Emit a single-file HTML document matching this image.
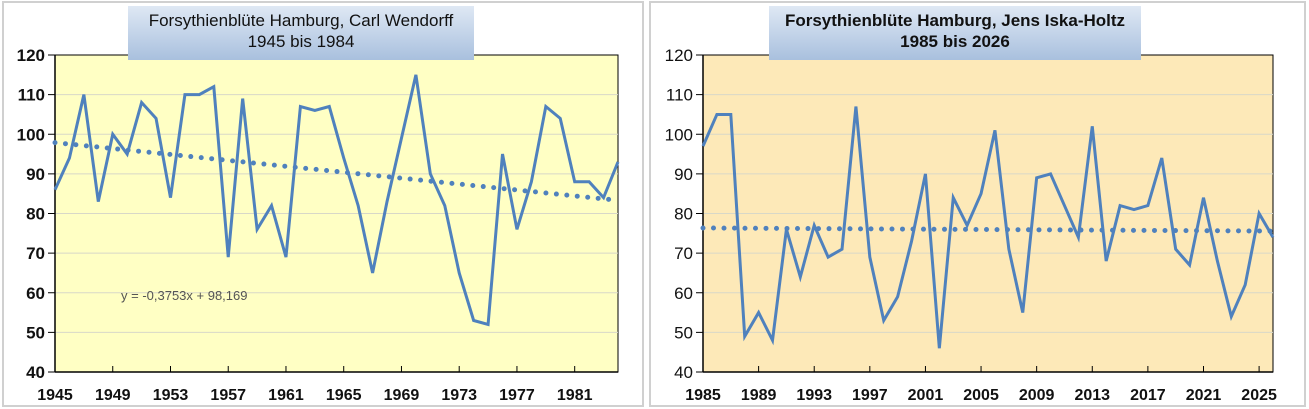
<!DOCTYPE html>
<html><head><meta charset="utf-8">
<style>
body{margin:0;background:#fff;width:1309px;height:409px;overflow:hidden;font-family:"Liberation Sans",sans-serif}
svg{position:absolute;left:0;top:0}
</style></head>
<body>
<svg id="s" width="1309" height="409" xmlns="http://www.w3.org/2000/svg">
<defs>
<linearGradient id="tg" x1="0" y1="0" x2="0" y2="1">
<stop offset="0" stop-color="#dfe8f4"/><stop offset="1" stop-color="#a9c0de"/>
</linearGradient>
</defs>
</svg>
<script>
const leftYears=[];for(let y=1945;y<=1984;y++)leftYears.push(y);
const leftValues=[86,94,110,83,100,95,108,104,84,110,110,112,69,109,76,82,69,107,106,107,94,82,65,83,99,115,90,82,65,53,52,95,76,88,107,104,88,88,84,93];
const rightYears=[];for(let y=1985;y<=2026;y++)rightYears.push(y);
const rightValues=[97,105,105,49,55,48,76,64,77,69,71,107,69,53,59,73,90,46,84,77,85,101,71,55,89,90,82,74,102,68,82,81,82,94,71,67,84,68,54,62,80,74];
const yTicks=[40,50,60,70,80,90,100,110,120];
const leftXTicks=[1945,1949,1953,1957,1961,1965,1969,1973,1977,1981];
const rightXTicks=[1985,1989,1993,1997,2001,2005,2009,2013,2017,2021,2025];

const S=document.getElementById('s');const NS='http://www.w3.org/2000/svg';
function el(t,a,p){const e=document.createElementNS(NS,t);for(const k in a)e.setAttribute(k,a[k]);(p||S).appendChild(e);return e;}

function chart(o){
  const g=el('g',{});
  
  
  const panel=el('rect',{x:o.px,y:2,width:o.pw,height:404,fill:'#fff',stroke:'#d0d0d0','stroke-width':2},g);
  
  
  const L=o.l,R=o.r,T=55,B=372;
  const sx=v=>L+(v-o.years[0])/(o.years[o.years.length-1]-o.years[0])*(R-L);
  const sy=v=>B-(v-40)/80*(B-T);
  const bg=el('rect',{x:L,y:T,width:R-L,height:B-T,fill:o.bg,stroke:'#000','stroke-width':1},g);
  
  
  yTicks.forEach(v=>{
    if(v>40&&v<120){const gl=el('line',{x1:L,x2:R,y1:sy(v),y2:sy(v),stroke:'#d8d8c8','stroke-width':1},g);
    
    }
    el('line',{x1:L-7,x2:L,y1:sy(v),y2:sy(v),stroke:'#000'},g);
    const t=el('text',{x:L-10,y:sy(v)+6,'text-anchor':'end','font-size':17,'font-weight':o.ybold?'bold':'normal',fill:'#111'},g);
    t.textContent=v;
    
    
  });
  el('line',{x1:L,x2:L,y1:T,y2:B,stroke:'#000','stroke-width':1.5},g);
  el('line',{x1:L,x2:R,y1:B,y2:B,stroke:'#000','stroke-width':1.5},g);
  o.xt.forEach(v=>{
    el('line',{x1:sx(v),x2:sx(v),y1:B,y2:B-6,stroke:'#000'},g);
    const t=el('text',{x:sx(v),y:B+28,'text-anchor':'middle','font-size':16,'font-weight':'bold',fill:'#111'},g);
    t.textContent=v;
    
    
  });
  const n=o.vals.length;let mx=0,my=0;for(let i=0;i<n;i++){mx+=i+1;my+=o.vals[i];}mx/=n;my/=n;
  let num=0,den=0;for(let i=0;i<n;i++){num+=(i+1-mx)*(o.vals[i]-my);den+=(i+1-mx)**2;}
  const sl=num/den,ic=my-sl*mx;
  const tr=el('line',{x1:sx(o.years[0]),y1:sy(ic+sl),x2:sx(o.years[n-1]),y2:sy(ic+sl*n),stroke:'#4f81bd','stroke-width':5,'stroke-dasharray':'0 10.5','stroke-linecap':'round'},g);
  
  
  const pl=el('polyline',{points:o.vals.map((v,i)=>sx(o.years[i])+','+sy(v)).join(' '),fill:'none',stroke:'#4f81bd','stroke-width':3,'stroke-linejoin':'miter'},g);
  
  
  const tb=el('rect',{x:o.tx,y:6,width:o.tw,height:54,fill:'url(#tg)'},g);
  
  
  o.title.forEach((s,i)=>{
    const t=el('text',{x:o.tx+o.tw/2,y:26+i*21,'text-anchor':'middle','font-size':17,'font-weight':o.tbold?'bold':'normal',fill:'#111'},g);
    t.textContent=s;
    
    
  });
  if(o.eq){const t=el('text',{x:121,y:300,'font-size':13,fill:'#555'},g);t.textContent=o.eq;
    
    }
}
chart({name:'chart-wendorff',px:3,pw:640,l:55,r:618,bg:'#ffffc4',years:leftYears,vals:leftValues,xt:leftXTicks,ybold:true,tbold:false,tx:128,tw:346,title:['Forsythienblüte Hamburg, Carl Wendorff','1945 bis 1984'],eq:'y = -0,3753x + 98,169'});
chart({name:'chart-iska-holtz',px:650,pw:655,l:703,r:1273,bg:'#fde9b8',years:rightYears,vals:rightValues,xt:rightXTicks,ybold:false,tbold:true,tx:769,tw:372,title:['Forsythienblüte Hamburg, Jens Iska-Holtz','1985 bis 2026']});
</script>
</body></html>
